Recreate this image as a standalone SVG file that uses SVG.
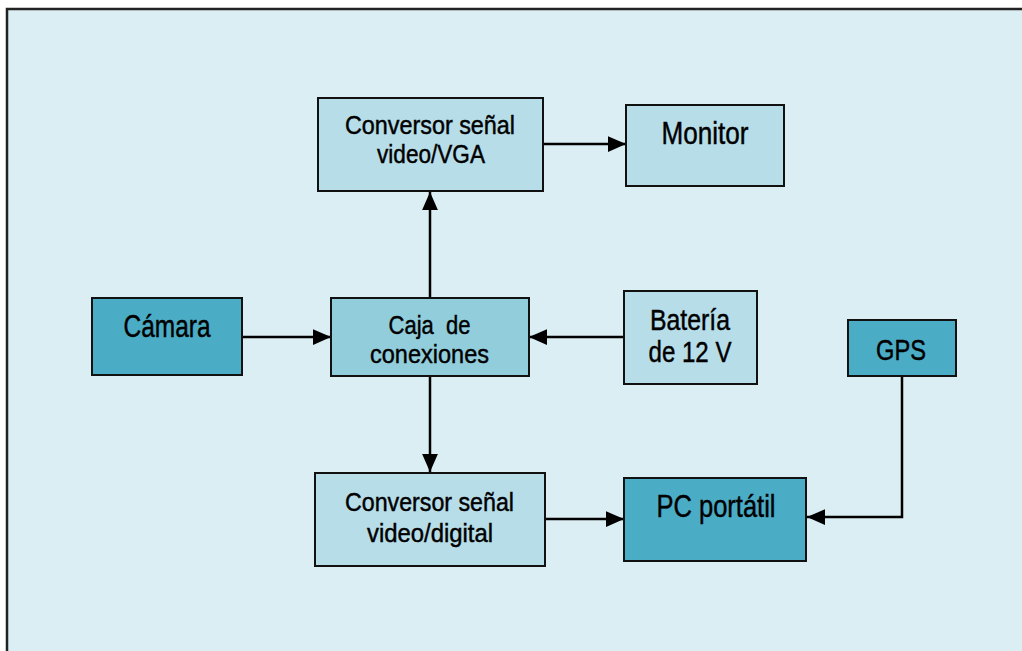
<svg xmlns="http://www.w3.org/2000/svg" width="1022" height="651" viewBox="0 0 1022 651">
<style>
.box{stroke:#111;stroke-width:2}
.light{fill:#b7dde8}
.mid{fill:#92cddc}
.dark{fill:#4bacc6}
.t{font-family:"Liberation Sans",Arial,sans-serif;fill:#000;stroke:#000;stroke-width:0.45;text-anchor:middle}
.c{fill:none;stroke:#000;stroke-width:2.5}
</style>
<defs>
<marker id="ah" markerUnits="userSpaceOnUse" markerWidth="18" markerHeight="16" viewBox="0 0 16 14" refX="16" refY="7" orient="auto">
<path d="M0,0 L16,7 L0,14 Z" fill="#000"/>
</marker>
</defs>
<rect x="0" y="0" width="1022" height="651" fill="#ffffff"/>
<rect x="7" y="9" width="1030" height="660" fill="#dbeef3" stroke="#222" stroke-width="2.5"/>
<g id="connectors">
<line class="c" x1="543" y1="144" x2="626" y2="144" marker-end="url(#ah)"/>
<line class="c" x1="430" y1="298" x2="430" y2="192" marker-end="url(#ah)"/>
<line class="c" x1="242" y1="337" x2="331" y2="337" marker-end="url(#ah)"/>
<line class="c" x1="624" y1="337" x2="529" y2="337" marker-end="url(#ah)"/>
<line class="c" x1="430" y1="376" x2="430" y2="472" marker-end="url(#ah)"/>
<line class="c" x1="545" y1="519" x2="624" y2="519" marker-end="url(#ah)"/>
<polyline class="c" points="902,376 902,517 807,517" marker-end="url(#ah)"/>
</g>
<g id="vga">
<rect class="box light" x="318" y="98" width="225" height="93"/>
<text class="t" x="430" y="134" font-size="25.5" textLength="170" lengthAdjust="spacingAndGlyphs">Conversor señal</text>
<text class="t" x="431" y="163" font-size="25.5" textLength="108" lengthAdjust="spacingAndGlyphs">video/VGA</text>
</g>
<g id="monitor">
<rect class="box light" x="626" y="105" width="158" height="81"/>
<text class="t" x="705" y="143.5" font-size="31" textLength="87" lengthAdjust="spacingAndGlyphs">Monitor</text>
</g>
<g id="camara">
<rect class="box dark" x="92" y="298" width="150" height="77"/>
<text class="t" x="167" y="337" font-size="31" textLength="87" lengthAdjust="spacingAndGlyphs">Cámara</text>
</g>
<g id="caja">
<rect class="box mid" x="331" y="298" width="198" height="78"/>
<text class="t" x="429.5" y="334" font-size="26" textLength="82" lengthAdjust="spacingAndGlyphs" xml:space="preserve">Caja  de</text>
<text class="t" x="429.5" y="363" font-size="26" textLength="119" lengthAdjust="spacingAndGlyphs">conexiones</text>
</g>
<g id="bateria">
<rect class="box light" x="624" y="291" width="133" height="93"/>
<text class="t" x="690" y="330" font-size="30" textLength="80" lengthAdjust="spacingAndGlyphs">Batería</text>
<text class="t" x="690" y="362" font-size="30" textLength="83" lengthAdjust="spacingAndGlyphs">de 12 V</text>
</g>
<g id="gps">
<rect class="box dark" x="848" y="320" width="108" height="56"/>
<text class="t" x="901" y="359.5" font-size="29" textLength="50" lengthAdjust="spacingAndGlyphs">GPS</text>
</g>
<g id="digital">
<rect class="box light" x="315" y="473" width="230" height="93"/>
<text class="t" x="429.5" y="511" font-size="25.5" textLength="169" lengthAdjust="spacingAndGlyphs">Conversor señal</text>
<text class="t" x="430" y="541.5" font-size="25.5" textLength="126" lengthAdjust="spacingAndGlyphs">video/digital</text>
</g>
<g id="pc">
<rect class="box dark" x="624" y="478" width="182" height="83"/>
<text class="t" x="716" y="517" font-size="32" textLength="119" lengthAdjust="spacingAndGlyphs">PC portátil</text>
</g>
</svg>
